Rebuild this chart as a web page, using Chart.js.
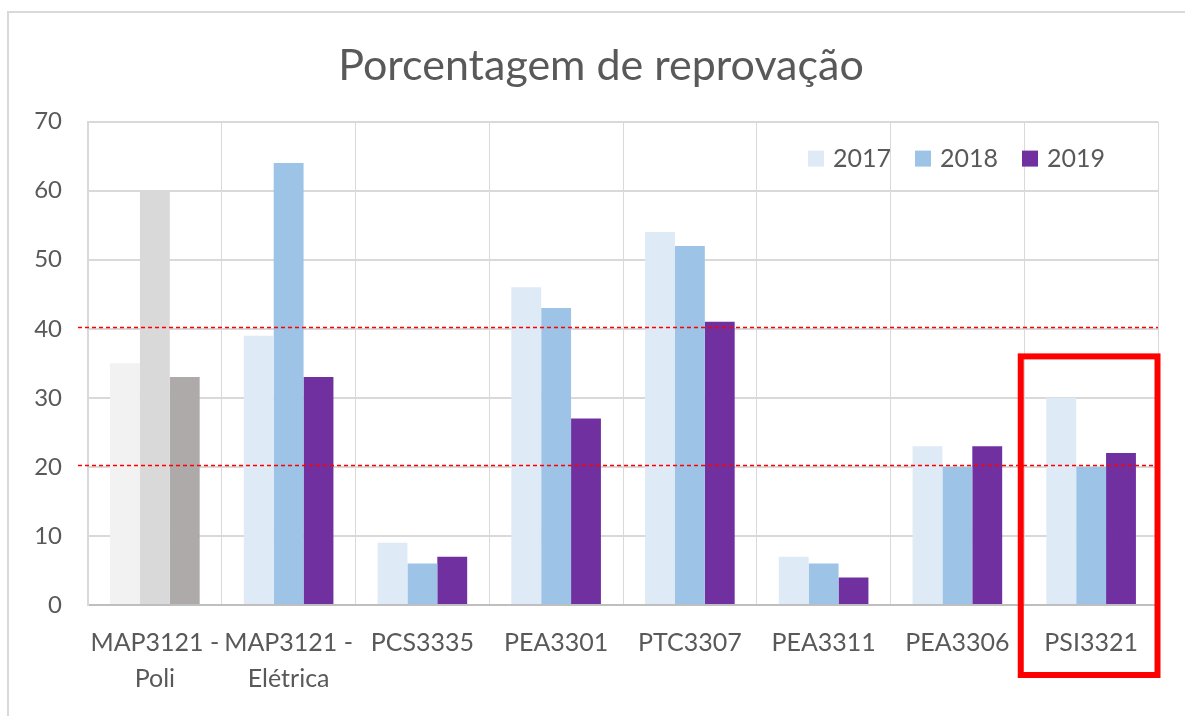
<!DOCTYPE html>
<html>
<head>
<meta charset="utf-8">
<script src="https://cdn.jsdelivr.net/npm/chart.js@4.4.0/dist/chart.umd.min.js"></script>
<style>
    html, body { margin: 0; padding: 0; background: #fff; }
    #wrap { position: relative; width: 1185px; height: 716px; }
    #frame { position: absolute; left: 7px; top: 11px; right: 0; bottom: 0; border-left: 2px solid #d9d9d9; border-top: 2px solid #d9d9d9; }
    canvas { position: absolute; left: 0; top: 0; }
</style>
</head>
<body>
<div id="wrap">
    <div id="frame"></div>
    <canvas id="myChart" width="1185" height="716"></canvas>
</div>
<script>
    // data
    const categories = [['MAP3121 -', 'Poli'], ['MAP3121 -', 'Elétrica'], 'PCS3335', 'PEA3301', 'PTC3307', 'PEA3311', 'PEA3306', 'PSI3321'];
    const years = ['2017', '2018', '2019'];
    const values2017 = [35, 39, 9, 46, 54, 7, 23, 30];
    const values2018 = [60, 64, 6, 43, 52, 6, 20, 20];
    const values2019 = [33, 33, 7, 27, 41, 4, 23, 22];
    const limitLines = [40, 20];
    const highlightIndex = 7;

    const seriesColors = ['#deeaf6', '#9dc3e6', '#7030a0'];
    const greyColors = ['#f2f2f2', '#d9d9d9', '#aeaaaa'];

    const fontFamily = 'Lato, "Open Sans", sans-serif';
    const textColor = '#595959';

    // first group is greyed out
    function colorsFor(i) {
        return categories.map((c, k) => k === 0 ? greyColors[i] : seriesColors[i]);
    }

    // red dashed limit lines + highlight box + legend inside plot
    const extrasPlugin = {
        id: 'extras',
        afterLayout(chart) {
            // title sits a bit right of the canvas centre
            if (chart.titleBlock) {
                chart.titleBlock.left += 22;
                chart.titleBlock.right += 22;
            }
        },
        afterDatasetsDraw(chart) {
            const ctx = chart.ctx;
            const area = chart.chartArea;
            const x = chart.scales.x;
            const y = chart.scales.y;

            ctx.save();
            ctx.strokeStyle = '#ff0000';
            ctx.lineWidth = 1.5;
            ctx.setLineDash([4, 3]);
            limitLines.forEach(v => {
                const py = Math.round(y.getPixelForValue(v)) - 1.5;
                ctx.beginPath();
                ctx.moveTo(area.left - 10, py);
                ctx.lineTo(area.right, py);
                ctx.stroke();
            });
            ctx.restore();

            // highlight box
            const catW = (area.right - area.left) / categories.length;
            const cx = x.getPixelForValue(highlightIndex);
            ctx.save();
            ctx.strokeStyle = '#ff0000';
            ctx.lineWidth = 6;
            ctx.strokeRect(cx - catW / 2 - 3.5, y.getPixelForValue(36), catW + 3, area.bottom + 70 - y.getPixelForValue(36));
            ctx.restore();

            // legend
            ctx.save();
            ctx.font = '25px ' + fontFamily;
            ctx.textBaseline = 'middle';
            let lx = area.right - 350;
            const ly = area.top + 37;
            years.forEach((yr, i) => {
                ctx.fillStyle = seriesColors[i];
                ctx.fillRect(lx, ly - 8, 16, 16);
                ctx.fillStyle = textColor;
                ctx.fillText(yr, lx + 25, ly);
                lx += 25 + ctx.measureText(yr).width + 24;
            });
            ctx.restore();
        }
    };

    const ctxChart = document.getElementById('myChart');

    new Chart(ctxChart, {
        type: 'bar',
        data: {
            labels: categories,
            datasets: [
                {label: years[0], data: values2017, backgroundColor: colorsFor(0)},
                {label: years[1], data: values2018, backgroundColor: colorsFor(1)},
                {label: years[2], data: values2019, backgroundColor: colorsFor(2)}
            ]
        },
        options: {
            responsive: false,
            animation: false,
            categoryPercentage: 0.67,
            barPercentage: 1,
            layout: {
                padding: {left: 0, right: 27, top: 16, bottom: 0}
            },
            plugins: {
                legend: {display: false},
                tooltip: {enabled: false},
                title: {
                    display: true,
                    text: 'Porcentagem de reprovação',
                    color: textColor,
                    font: {family: fontFamily, size: 43, weight: 'normal', lineHeight: 1.2},
                    padding: {top: 24, bottom: 30}
                }
            },
            scales: {
                x: {
                    grid: {color: '#d9d9d9', drawTicks: false, offset: true},
                    border: {color: '#bfbfbf', width: 2},
                    ticks: {
                        color: textColor,
                        font: {family: fontFamily, size: 25, lineHeight: 1.45},
                        padding: 20,
                        maxRotation: 0,
                        autoSkip: false
                    },
                    afterFit(scale) { scale.height = 111; }
                },
                y: {
                    min: 0,
                    max: 70,
                    ticks: {
                        stepSize: 10,
                        color: textColor,
                        font: {family: fontFamily, size: 24},
                        padding: 26
                    },
                    grid: {color: '#d9d9d9', lineWidth: 2, drawTicks: false},
                    border: {color: '#d9d9d9', width: 2},
                    afterFit(scale) { scale.width = 88; }
                }
            }
        },
        plugins: [extrasPlugin]
    });
</script>
</body>
</html>
